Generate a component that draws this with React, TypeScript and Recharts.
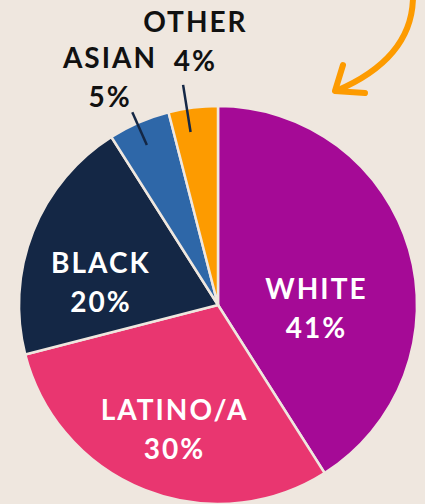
// Race / ethnicity breakdown pie. Labels placed by polar offsets from each slice's mid angle.
import { Cell, Pie, PieChart } from 'recharts';

const groups = ['WHITE', 'LATINO/A', 'BLACK', 'ASIAN', 'OTHER'];
const shares = [41, 30, 20, 5, 4];
const colors = ['#a50a96', '#e93670', '#142745', '#2e67a8', '#fd9b00'];

// per-slice label tweak: radius as fraction of outer radius, angle shift in degrees
const labelPos: Record<string, { r: number; da: number; outside?: boolean }> = {
  WHITE: { r: 0.495, da: -18 },
  'LATINO/A': { r: 0.66, da: 2.3 },
  BLACK: { r: 0.6, da: 10.4 },
  ASIAN: { r: 1.27, da: 1.9, outside: true },
  OTHER: { r: 1.33, da: -2.3, outside: true },
};

const BG = '#efe7df';
const FONT = 'Lato, "Open Sans", sans-serif';
const RAD = Math.PI / 180;

const data = groups.map((g, i) => ({ name: g, value: shares[i] }));

function renderLabel(props: any) {
  const { cx, cy, midAngle, outerRadius, name, value } = props;
  const p = labelPos[name];
  const a = (midAngle + p.da) * RAD;
  const x = cx + outerRadius * p.r * Math.cos(a);
  const y = cy - outerRadius * p.r * Math.sin(a);
  const fill = p.outside ? '#111' : '#fff';
  let line = null;
  if (p.outside) {
    const la = (midAngle + p.da * 0.3 + (name === 'ASIAN' ? 0 : 2.5)) * RAD;
    const r1 = outerRadius * 0.88;
    const r2 = outerRadius * (name === 'ASIAN' ? 1.06 : 1.12);
    line = (
      <line
        x1={cx + r1 * Math.cos(la)}
        y1={cy - r1 * Math.sin(la)}
        x2={cx + r2 * Math.cos(la)}
        y2={cy - r2 * Math.sin(la)}
        stroke="#142745"
        strokeWidth={2.5}
      />
    );
  }
  return (
    <g>
      {line}
      <text
        x={x}
        y={y}
        fill={fill}
        textAnchor="middle"
        fontFamily={FONT}
        fontWeight={700}
        fontSize={28}
        letterSpacing={2}
      >
        <tspan x={x} y={y - 9}>{name}</tspan>
        <tspan x={x} y={y + 30}>{value}%</tspan>
      </text>
    </g>
  );
}

export default function App() {
  return (
    <div style={{ position: 'absolute', left: 0, top: 0, width: 425, height: 504, background: BG, overflow: 'hidden' }}>
      <PieChart width={425} height={504} margin={{ top: 0, right: 0, bottom: 0, left: 0 }}>
        <Pie
          data={data}
          dataKey="value"
          nameKey="name"
          cx={218}
          cy={305}
          outerRadius={199}
          startAngle={90}
          endAngle={-270}
          stroke={BG}
          strokeWidth={2.5}
          label={renderLabel}
          labelLine={false}
          isAnimationActive={false}
        >
          {data.map((d, i) => (
            <Cell key={d.name} fill={colors[i]} />
          ))}
        </Pie>
      </PieChart>
      <svg width={425} height={504} style={{ position: 'absolute', left: 0, top: 0, pointerEvents: 'none' }}>
        <g fill="none" stroke="#fd9b00" strokeWidth={6} strokeLinecap="round" strokeLinejoin="round">
          <path d="M 413 -4 C 413 35 390 68 336 91" />
          <path d="M 343 65 L 335 91 L 365 93" />
        </g>
      </svg>
    </div>
  );
}
